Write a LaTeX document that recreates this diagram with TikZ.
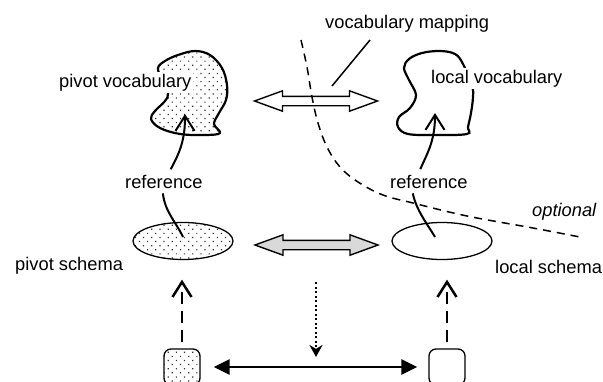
\documentclass[tikz,border=0pt]{standalone}
\usepackage{fontspec}
\setmainfont{Liberation Sans}
\usetikzlibrary{positioning,arrows.meta,shapes.geometric,shapes.arrows,patterns.meta,calc}
\definecolor{dotGray}{RGB}{50,50,50}
\definecolor{arrGray}{RGB}{217,217,217}

\begin{document}
\begin{tikzpicture}[x=1pt, y=-1pt, font=\fontsize{18.3}{22}\selectfont,
  lbl/.style={inner sep=0pt, anchor=base west},
  dotfill/.style={pattern={Dots[distance=5.8pt, angle=45, radius=0.85pt]}, pattern color=dotGray},
  barb/.style={-{Straight Barb[length=15pt, width=19pt]}},
  bigarrow/.style={double arrow, draw, line width=1.4pt, inner xsep=0pt, inner ysep=4pt, minimum height=123pt,
    double arrow head extend=5.5pt, double arrow tip angle=40},
  schema/.style={ellipse, draw, line width=1.3pt, minimum width=100pt, minimum height=37pt},
  srcbox/.style={draw, rounded corners=7pt, line width=1.3pt, minimum size=36pt}]
\useasboundingbox (0,0) rectangle (603,381);
% vocabularies
\draw[dotfill, line width=2.2pt] plot[smooth cycle, tension=0.6] coordinates {(168,93) (165,101) (155,111) (151,119) (160,128) (180,134) (205,135) (220,133) (214,124) (219,113) (226,100) (227,85) (222,68) (210,55) (195,51) (178,55) (165,61) (158,68) (162,80)};
\draw[line width=2.2pt] plot[smooth cycle, tension=0.6] coordinates {(463,64) (455,54) (440,51) (422,53) (409,59) (404,68) (409,80) (416,95) (410,108) (399,117) (398,127) (408,134) (435,135) (467,134) (468,127) (471,113) (473,97) (472,86)};
\node[lbl, fill=white, inner sep=2pt] (pivV) at (57,87) {pivot vocabulary};
\node[lbl, fill=white, inner sep=2pt] (locV) at (429,83) {local vocabulary};
\coordinate (pivVtip) at (185,114);
\coordinate (locVtip) at (435,113);
% optional border
\draw[line width=1.5pt, dash pattern=on 8pt off 6pt] plot[smooth, tension=0.6] coordinates {(301,40) (307,67) (312,97) (318,123) (327,147) (340,167) (358,182) (383,195) (413,203) (467,216) (533,228) (580,237)};
\node[lbl] (optL) at (532,216) {\itshape optional};
% mapping label
\node[lbl] (mapLbl) at (325,28) {vocabulary mapping};
\coordinate (mapFoot) at (370,40);
\coordinate (mapTip) at (332,86);
\draw[line width=1.5pt] (mapFoot) -- (mapTip);
% schemas and sources
\node[schema, dotfill] (pivS) at (183,241) {};
\node[schema] (locS) at (442,241) {};
\node[lbl] (pivSL) at (15,270) {pivot schema};
\node[lbl] (locSL) at (495,273) {local schema};
\node[srcbox, dotfill] (pivB) at (182,367) {};
\node[srcbox] (locB) at (447,367) {};
% references
\node[lbl] (refL) at (125,188) {reference};
\node[lbl] (refR) at (390,188) {reference};
\draw[line width=2pt, barb, shorten <=6pt] ([xshift=4pt]refL.north) .. controls (180,152) and (185,140) .. (pivVtip);
\draw[line width=2pt, barb, shorten <=6pt] ([xshift=-11pt]refR.north) .. controls (428,152) and (435,140) .. (locVtip);
\draw[line width=2pt] ([xshift=-1pt, yshift=-5pt]refL.south) .. controls (165,212) and (176,222) .. ([yshift=4pt]pivS.center);
\draw[line width=2pt] ([xshift=-16pt, yshift=-5pt]refR.south) .. controls (416,210) and (428,225) .. ([xshift=-7pt, yshift=4pt]locS.center);
% mappings
\node[bigarrow] (vocMap) at (316,101) {};
\node[bigarrow, fill=arrGray] (schMap) at (316.5,245) {};
\draw[line width=2.5pt, {Triangle[length=16pt,width=15pt]}-{Triangle[length=16pt,width=15pt]}, shorten <=13pt, shorten >=11pt] (pivB) -- (locB);
\draw[line width=2.5pt, dash pattern=on 12pt off 7pt, barb, shorten <=6pt, shorten >=19.5pt] (pivB.north) -- (pivB.north |- pivS.south);
\draw[line width=2.5pt, dash pattern=on 12pt off 7pt, barb, shorten <=6pt, shorten >=19.5pt] (locB.north) -- (locB.north |- locS.south);
\coordinate (mapTop) at (316,282);
\coordinate (mapEnd) at (316,357);
\draw[line width=2pt, dash pattern=on 2pt off 2.5pt, -{Stealth[length=12pt,width=13pt]}] (mapTop) -- (mapEnd);
\end{tikzpicture}
\end{document}
